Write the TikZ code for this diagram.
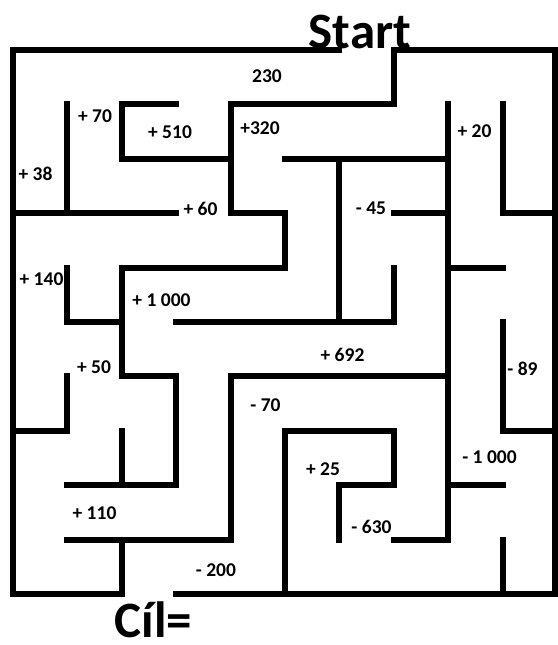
\documentclass[tikz,border=0pt]{standalone}
\usepackage{fontspec}
\setmainfont{Carlito}
\begin{document}
\begin{tikzpicture}[x=1pt,y=-1pt,
  wall/.style={line width=6pt,line cap=rect,line join=miter},
  lbl/.style={font=\bfseries\fontsize{19.5}{21}\selectfont,inner sep=0pt,anchor=center},
  big/.style={font=\bfseries\fontsize{51}{53}\selectfont,inner sep=0pt,anchor=base}]
\useasboundingbox (0,0) rectangle (557,645);
\begin{scope}[xshift=13pt,yshift=-50pt,x=54.4pt,y=-54.4pt]
  % outer walls
  \draw[wall] (6,0) -- (0,0) -- (0,10) -- (2,10) -- (2,9);
  \draw[wall] (3,10) -- (10,10);
  \draw[wall] (9.96,3) -- (9.96,10);
  \draw[wall] (4,1) -- (7,1) -- (7,0) -- (10,0);
  \draw[wall] (9.96,0) -- (9.96,3);
  \draw[wall] (9,1) -- (9,3) -- (9.96,3);
  % inner walls
  \draw[wall] (4,2) -- (2,2) -- (2,1) -- (3,1);
  \draw[wall] (1,1) -- (1,3);
  \draw[wall] (0,3) -- (3,3);
  \draw[wall] (4,1) -- (4,3) -- (5,3) -- (5,4) -- (2,4) -- (2,6) -- (3,6) -- (3,8) -- (1,8);
  \draw[wall] (2,7) -- (2,8);
  \draw[wall] (1,4) -- (1,5) -- (2,5);
  \draw[wall] (0,7) -- (1,7) -- (1,6);
  \draw[wall] (5,2) -- (8,2);
  \draw[wall] (6,2) -- (6,5);
  \draw[wall] (3,5) -- (7,5) -- (7,4);
  \draw[wall] (7,3) -- (8,3);
  \draw[wall] (8,1) -- (8,9) -- (7,9);
  \draw[wall] (8,4) -- (9,4);
  \draw[wall] (8,8) -- (9,8);
  \draw[wall] (9,5) -- (9,7) -- (9.96,7);
  \draw[wall] (9,9) -- (9,10);
  \draw[wall] (1,9) -- (4,9) -- (4,6) -- (8,6);
  \draw[wall] (5,10) -- (5,7) -- (7,7) -- (7,8) -- (6,8) -- (6,9);
\end{scope}
% titles
\node[big] (start) at (360,48) {Start};
\node[big] (cil) at (153.5,637) {Cíl=};
% values
\node[lbl] (v230) at (267,76) {230};
\node[lbl] (v70) at (95,116) {+ 70};
\node[lbl] (v510) at (170,132) {+ 510};
\node[lbl] (v320) at (260,128) {+320};
\node[lbl] (v38) at (35.5,174) {+ 38};
\node[lbl] (v60) at (200.5,209) {+ 60};
\node[lbl] (v20) at (474.5,131) {+ 20};
\node[lbl] (v45) at (371,208) {- 45};
\node[lbl] (v140) at (41.5,279) {+ 140};
\node[lbl] (v1000) at (161.5,300) {+ 1 000};
\node[lbl] (v50) at (94,367) {+ 50};
\node[lbl] (vm70) at (265.5,405) {- 70};
\node[lbl] (v692) at (342.5,355) {+ 692};
\node[lbl] (vm89) at (522.5,369) {- 89};
\node[lbl] (v110) at (94.5,513) {+ 110};
\node[lbl] (vm200) at (216,570) {- 200};
\node[lbl] (v25) at (323,469) {+ 25};
\node[lbl] (vm1000) at (489.5,457) {- 1 000};
\node[lbl] (vm630) at (371.5,527) {- 630};
\end{tikzpicture}
\end{document}
